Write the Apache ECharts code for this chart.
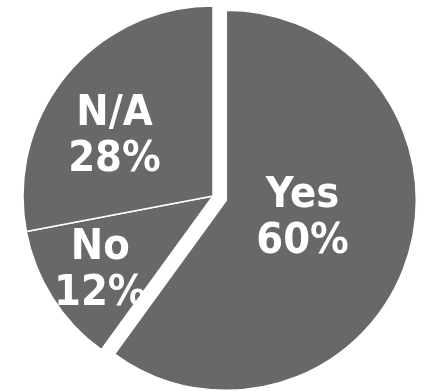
<!DOCTYPE html>
<html>
<head>
<meta charset="utf-8">
<script src="https://cdn.jsdelivr.net/npm/echarts@6/dist/echarts.min.js"></script>
<style>
html,body{margin:0;padding:0;background:#fff;}
#c{width:429px;height:391px;}
</style>
</head>
<body>
<div id="c"></div>
<script>
const categories = ['Yes', 'No', 'N/A'];
const values = [60, 12, 28];
const labelNames = ['Yes', 'No', 'N/A'];
const labelPercents = ['60%', '12%', '28%'];

const spacerBefore = [false, true, true];
const chart = echarts.init(document.getElementById('c'), null, {renderer: 'canvas'});
const grey = '#686868';
const fontFam = '"DejaVu Sans Condensed", "DejaVu Sans", sans-serif';
const spacerStyles = ['s1', 's2', 's3'];
const labelPads = [[0, 34, 0, 0], [0, 60, 0, 0], [0, 46, 0, 0]];
const data = categories.map((c, i) => {
  const body = '{t|' + labelNames[i] + '}\n{t|' + labelPercents[i] + '}';
  const sp = '{' + spacerStyles[i] + '|}';
  return {
    name: c,
    value: values[i],
    selected: i === 0,
    label: {formatter: spacerBefore[i] ? sp + '\n' + body : body + '\n' + sp, padding: labelPads[i]}
  };
});
const txt = {color: '#fff', fontFamily: fontFam, fontWeight: 'bold', fontSize: 43, lineHeight: 46, align: 'center'};
chart.setOption({
  animation: false,
  backgroundColor: '#fff',
  series: [{
    type: 'pie',
    center: [213, 196],
    radius: [0, 190],
    startAngle: 90,
    clockwise: true,
    selectedMode: 'single',
    selectedOffset: 14,
    avoidLabelOverlap: false,
    silent: true,
    itemStyle: {color: grey, borderColor: '#fff', borderWidth: 1.5},
    label: {
      show: true,
      position: 'inside',
      color: '#fff',
      fontFamily: fontFam,
      fontWeight: 'bold',
      fontSize: 43,
      lineHeight: 46,
      align: 'center',
      rich: {
        t: txt,
        s1: {height: 24, lineHeight: 24, fontSize: 10},
        s2: {height: 44, lineHeight: 44, fontSize: 10},
        s3: {height: 6, lineHeight: 6, fontSize: 6}
      }
    },
    labelLayout: {hideOverlap: false},
    labelLine: {show: false},
    emphasis: {disabled: true},
    select: {itemStyle: {color: grey, borderColor: '#fff', borderWidth: 1.5}, label: {color: '#fff'}},
    data: data
  }]
});
</script>
</body>
</html>
